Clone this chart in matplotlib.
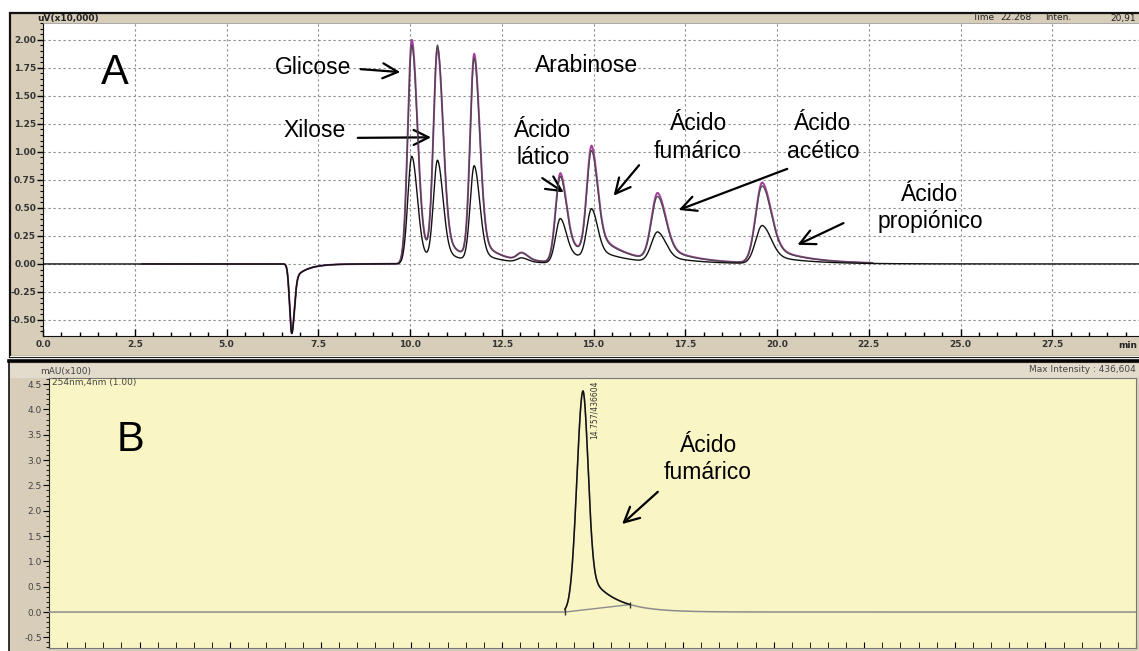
import numpy as np
import matplotlib
matplotlib.use("Agg")
import matplotlib.pyplot as plt
from matplotlib.patches import Rectangle
from matplotlib.lines import Line2D
from matplotlib.ticker import MultipleLocator, FormatStrFormatter

plt.rcParams['font.family'] = ['Liberation Sans', 'DejaVu Sans']

# ---- panel A: RID chromatograms (uV x10,000 vs min) ----
rt_a = [10.05, 10.75, 11.75, 13.05, 14.10, 14.95, 16.75, 19.60]
h_purple = [2.00, 1.85, 1.82, 0.07, 0.80, 0.97, 0.60, 0.72]
h_gray = [1.95, 1.88, 1.78, 0.07, 0.77, 0.93, 0.57, 0.69]
h_black = [0.96, 0.89, 0.85, 0.04, 0.40, 0.45, 0.27, 0.34]
sig_l = [0.11, 0.11, 0.11, 0.13, 0.13, 0.13, 0.17, 0.18]
sig_r = [0.15, 0.15, 0.15, 0.16, 0.16, 0.16, 0.22, 0.24]
tail_frac = [0.12, 0.12, 0.12, 0.30, 0.30, 0.25, 0.25, 0.25]
tail_tau = [0.6, 0.6, 0.6, 0.8, 0.8, 0.8, 0.9, 1.0]

# solvent dip
dip_rt, dip_h, dip_sl, dip_sr, dip_frac, dip_tau = 6.78, -0.62, 0.06, 0.07, 0.25, 0.35

# ---- panel B: UV 254 nm ----
rt_b, h_b = 14.74, 4.366
b_sl, b_sr, b_frac, b_tau = 0.17, 0.14, 0.21, 0.71
b_start, b_end = 14.24, 16.04
b_label = "14.757/436604"

labels_a = [
    ("Glicose", 6.32, 1.75, (8.58, 1.74), (9.81, 1.71)),
    ("Xilose", 6.54, 1.19, (8.50, 1.125), (10.65, 1.13)),
    ("Arabinose", 13.41, 1.77, None, None),
]
labels_a2 = [
    ("Ácido\nlático", 13.62, 1.07, (13.54, 0.78), (14.25, 0.625)),
    ("Ácido\nfumárico", 17.85, 1.13, (16.29, 0.90), (15.50, 0.59)),
    ("Ácido\nacético", 21.25, 1.13, (20.35, 0.857), (17.25, 0.473)),
    ("Ácido\npropiónico", 24.17, 0.50, (21.88, 0.375), (20.49, 0.16)),
]


def peak(t, rt, h, sl, sr, frac, tau):
    d = t - rt
    s = np.where(d < 0, sl, sr)
    g = np.exp(-0.5 * (d / s) ** 2)
    tail = np.where(d < 0, g, np.exp(-np.clip(d, 0, None) / tau))
    return h * ((1 - frac) * g + frac * tail)


def trace(t, heights):
    y = peak(t, dip_rt, dip_h, dip_sl, dip_sr, dip_frac, dip_tau)
    for i in range(len(rt_a)):
        y = y + peak(t, rt_a[i], heights[i], sig_l[i], sig_r[i], tail_frac[i], tail_tau[i])
    return y


W, H = 1139, 651
fig = plt.figure(figsize=(W / 100, H / 100), dpi=100)
beige = '#d7cdb9'


def fx(px):
    return px / W


def fy(py):
    return 1 - py / H


# window frames (behind the axes)
fig.add_artist(Rectangle((fx(10), fy(357)), fx(1150 - 10), (357 - 13) / H,
                         facecolor=beige, edgecolor='#111111', lw=1.6, zorder=-10))
fig.add_artist(Rectangle((fx(9), -0.01), fx(1150 - 9), fy(361) + 0.01,
                         facecolor=beige, edgecolor='#111111', lw=1.2, zorder=-10))
fig.add_artist(Rectangle((fx(10), fy(378)), fx(1150), (378 - 364) / H,
                         facecolor='#e3dccc', edgecolor='none', zorder=-9))
fig.add_artist(Line2D([fx(9), 1], [fy(361), fy(361)], color='black', lw=2.6, zorder=-8))
fig.add_artist(Line2D([fx(10), 1], [fy(356), fy(356)], color='#f4f1ea', lw=0.8, zorder=-8))

# ---- top axes ----
ax1 = fig.add_axes([fx(43), fy(336), fx(1139 - 43), (336 - 23) / H])
ax1.set_xlim(0, (1139 - 43) / 36.7)
ax1.set_ylim(-0.643, 2.15)
ax1.set_facecolor('white')

t = np.linspace(0, 30, 6001)
m = (t >= 2.7) & (t <= 22.6)
ax1.plot(t[m], trace(t[m], h_purple), color='#a3409c', lw=1.4, zorder=3)
ax1.plot(t[m], trace(t[m], h_gray), color='#4a4a4a', lw=0.9, zorder=4)
ax1.plot(t, trace(t, h_black), color='#111111', lw=1.0, zorder=5)

ax1.xaxis.set_major_locator(MultipleLocator(2.5))
ax1.xaxis.set_minor_locator(MultipleLocator(0.5))
ax1.yaxis.set_major_locator(MultipleLocator(0.25))
ax1.yaxis.set_minor_locator(MultipleLocator(0.05))
ax1.xaxis.set_major_formatter(FormatStrFormatter('%.1f'))
ax1.yaxis.set_major_formatter(FormatStrFormatter('%.2f'))
ax1.tick_params(axis='x', which='major', direction='in', length=5, width=1, pad=3)
ax1.tick_params(axis='x', which='minor', direction='in', length=3, width=1)
ax1.tick_params(axis='y', which='major', direction='out', length=4, width=1, pad=1)
ax1.tick_params(axis='y', which='minor', direction='out', length=2, width=0.8)
for lab in ax1.get_xticklabels() + ax1.get_yticklabels():
    lab.set_fontfamily('DejaVu Sans')
    lab.set_fontsize(6.5)
    lab.set_fontweight('bold')
    lab.set_color('#333333')
ax1.grid(which='major', color='#8a8a8a', ls=(0, (2, 2.5)), lw=0.8)
ax1.spines['right'].set_visible(False)
ax1.spines['top'].set_color('#9a9a9a')
ax1.spines['top'].set_linewidth(0.6)
for s in ('left', 'bottom'):
    ax1.spines[s].set_color('#111111')

ax1.text(1.95, 1.70, "A", fontsize=30, ha='center', va='center')
arrow = dict(arrowstyle='->', lw=1.6, color='black', mutation_scale=27)
for text, x, y, a0, a1 in labels_a:
    ax1.text(x, y, text, fontsize=16.5, ha='left', va='center')
    if a0 is not None:
        ax1.annotate("", xy=a1, xytext=a0, arrowprops=arrow)
for text, x, y, a0, a1 in labels_a2:
    ax1.text(x, y, text, fontsize=16.5, ha='center', va='center', linespacing=1.25)
    ax1.annotate("", xy=a1, xytext=a0, arrowprops=arrow)

hdr = dict(fontsize=6.5, family='DejaVu Sans', color='#222222', va='center')
fig.text(fx(37), fy(18), "uV(x10,000)", fontweight='bold', **hdr)
fig.text(fx(972), fy(18), "Time", **hdr)
fig.text(fx(1000), fy(18), "22.268", **hdr)
fig.text(fx(1045), fy(18), "Inten.", **hdr)
fig.text(fx(1136), fy(18), "20,91", ha='right', **hdr)
fig.text(fx(1137), fy(345), "min", ha='right', fontweight='bold', **hdr)

# ---- bottom axes ----
ax2 = fig.add_axes([fx(49), fy(648), fx(1136 - 49), (648 - 378) / H])
ax2.set_xlim(0, 30)
ax2.set_ylim(-0.71, 4.62)
ax2.set_facecolor('#faf5c4')

tb = np.linspace(0, 30, 6001)
yb = peak(tb, rt_b, h_b, b_sl, b_sr, b_frac, b_tau)
yb[tb < b_start] = 0.0
inside = (tb >= b_start) & (tb <= b_end)
ax2.plot(tb, yb, color='#8c8c8c', lw=1.1, zorder=3)
ax2.plot(tb[inside], yb[inside], color='#111111', lw=1.1, zorder=4)
y_end = peak(np.array([b_end]), rt_b, h_b, b_sl, b_sr, b_frac, b_tau)[0]
ax2.plot([b_start, b_end], [0.0, y_end], color='#8c8c8c', lw=1.0, zorder=3)
ax2.plot([b_start, b_end], [0.0, y_end], ls='none', marker='|', ms=5,
         color='#333333', zorder=5)
ax2.text(14.93, 4.58, b_label, rotation=90, fontsize=5.5, ha='left', va='top',
         family='DejaVu Sans', color='#333333')

ax2.xaxis.set_major_locator(MultipleLocator(2.5))
ax2.xaxis.set_minor_locator(MultipleLocator(0.5))
ax2.yaxis.set_major_locator(MultipleLocator(0.5))
ax2.yaxis.set_minor_locator(MultipleLocator(0.1))
ax2.yaxis.set_major_formatter(FormatStrFormatter('%.1f'))
ax2.tick_params(axis='x', which='both', direction='in', length=4, labelbottom=False)
ax2.tick_params(axis='y', which='major', direction='out', length=4, pad=1)
ax2.tick_params(axis='y', which='minor', direction='out', length=2)
for lab in ax2.get_yticklabels():
    lab.set_fontfamily('DejaVu Sans')
    lab.set_fontsize(6.5)
    lab.set_color('#444444')
for s in ax2.spines.values():
    s.set_color('#777777')
    s.set_linewidth(0.8)
ax2.spines['left'].set_color('#222222')

ax2.text(2.24, 3.39, "B", fontsize=30, ha='center', va='center')
ax2.text(18.19, 3.02, "Ácido\nfumárico", fontsize=16.5, ha='center', va='center',
         linespacing=1.25)
ax2.annotate("", xy=(15.76, 1.70), xytext=(16.86, 2.41), arrowprops=arrow)

small = dict(fontsize=6.5, family='DejaVu Sans', color='#444444', va='center')
fig.text(fx(40), fy(371), "mAU(x100)", **small)
fig.text(fx(52), fy(382), "254nm,4nm (1.00)", **small)
fig.text(fx(1136), fy(370), "Max Intensity : 436,604", ha='right', **small)

fig.savefig("out.png", dpi=100)
